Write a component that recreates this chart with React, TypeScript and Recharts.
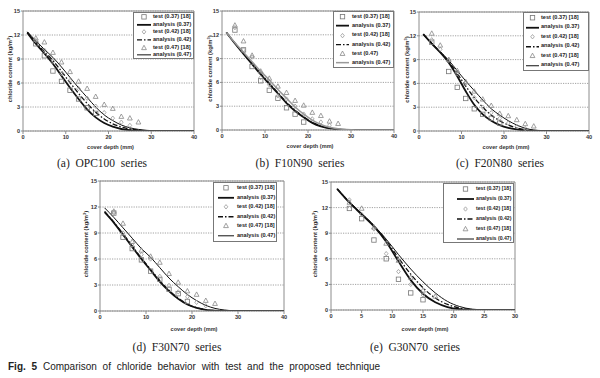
import React from 'react'
import { ComposedChart, Line, Scatter, XAxis, YAxis, CartesianGrid, Legend, Label, ReferenceLine } from 'recharts'

// cover depth (mm) where the test profiles were sampled
const TEST_DEPTH = [3, 5, 7, 9, 11, 13, 15, 17, 19, 21, 23, 25, 27]
const TEST_DEPTH_E = [3, 5, 7, 9, 11, 13, 15, 17]
// cover depth (mm) of the points
const CURVE_DEPTH = [1, 3, 5, 7, 9, 11, 13, 15, 17, 19, 21, 23, 25, 27, 29, 31, 35, 40]
const CURVE_DEPTH_E = [1, 3, 5, 7, 9, 11, 13, 15, 17, 19, 21, 23, 25, 27, 30]

const X_TICKS_40 = [0, 10, 20, 30, 40]
const X_TICKS_30 = [0, 5, 10, 15, 20, 25, 30]
const Y_TICKS = [0, 3, 6, 9, 12, 15]

// (a) OPC100
const A_T37 = [10.9, 9.4, 7.5, 6.2, 5.1, 4.0, 2.9, 2.2, null, null, null, null, null]
const A_T42 = [11.3, 10.1, 8.7, 7.2, 6.3, 5.3, 4.1, 3.1, 2.3, 1.6, 1.1, 0.7, null]
const A_T47 = [11.6, 11.1, 9.8, 8.6, 7.4, 6.2, 5.3, 4.3, 3.3, 2.8, 1.8, 1.6, 1.1]
const A_AN37 = [12.3, 10.9, 9.7, 8.4, 6.9, 5.4, 4.0, 2.7, 1.7, 1.0, 0.55, 0.25, 0.1, 0.04, 0.01, 0, 0, 0]
const A_AN42 = [12.35, 11.1, 9.95, 8.8, 7.45, 6.05, 4.7, 3.45, 2.35, 1.5, 0.9, 0.5, 0.25, 0.1, 0.04, 0.01, 0, 0]
const A_AN47 = [12.4, 11.3, 10.2, 9.2, 8.0, 6.7, 5.4, 4.2, 3.0, 2.0, 1.3, 0.75, 0.4, 0.2, 0.08, 0.02, 0, 0]

// (b) F10N90
const B_T37 = [12.6, 10.1, 8.0, 6.2, 5.0, 4.0, 2.8, 2.0, 1.0, null, null, null, null]
const B_T42 = [12.9, 10.1, 9.2, 6.6, 5.7, 4.3, 3.9, 3.0, 2.0, 1.4, 1.0, 0.6, null]
const B_T47 = [13.2, 11.2, 9.4, 7.4, 6.5, 5.5, 4.7, 3.7, 3.1, 2.2, 1.8, 1.1, 0.8]
const B_AN37 = [12.3, 10.9, 9.6, 8.3, 7.0, 5.8, 4.6, 3.4, 2.4, 1.6, 0.9, 0.45, 0.2, 0.08, 0.02, 0, 0, 0]
const B_AN42 = [12.3, 10.95, 9.65, 8.4, 7.1, 5.9, 4.7, 3.5, 2.5, 1.65, 0.95, 0.5, 0.22, 0.09, 0.03, 0.01, 0, 0]
const B_AN47 = [12.3, 11.0, 9.8, 8.6, 7.4, 6.3, 5.1, 4.0, 2.9, 2.0, 1.25, 0.7, 0.35, 0.15, 0.05, 0.01, 0, 0]

// (c) F20N80
const C_T37 = [11.2, null, 7.5, 5.5, 4.1, 2.8, 2.1, 1.6, 1.0, null, null, null, null]
const C_T42 = [11.5, 10.3, 8.9, 7.2, 6.0, 4.2, 3.0, 2.3, 1.6, 1.0, 0.6, 0.3, null]
const C_T47 = [12.3, 10.8, 9.0, 7.6, 6.2, 5.0, 4.0, 3.2, 2.2, 1.9, 1.4, 0.9, 0.6]
const C_AN37 = [12.2, 11.0, 9.9, 8.6, 6.9, 5.0, 3.3, 2.1, 1.3, 0.75, 0.4, 0.2, 0.08, 0.03, 0.01, 0, 0, 0]
const C_AN42 = [12.2, 11.05, 9.95, 8.75, 7.25, 5.65, 4.2, 3.0, 2.0, 1.3, 0.75, 0.4, 0.18, 0.06, 0.01, 0, 0, 0]
const C_AN47 = [12.2, 11.1, 10.0, 8.9, 7.6, 6.3, 5.1, 3.9, 2.8, 2.0, 1.3, 0.75, 0.35, 0.12, 0.03, 0.01, 0, 0]

// (d) F30N70
const D_T37 = [11.3, 8.5, 7.2, 5.9, 4.6, 3.65, 2.5, 2.0, 1.1, null, null, null, null]
const D_T42 = [11.3, 9.0, 7.6, 6.5, 6.0, 4.0, 2.95, 2.2, 1.65, 1.0, 0.6, null, null]
const D_T47 = [11.5, 10.1, 8.0, 7.0, 6.3, 5.6, 4.3, 3.3, 2.3, 1.9, 1.2, 0.85, null]
const D_AN37 = [11.4, 10.2, 8.8, 7.4, 6.0, 4.7, 3.4, 2.3, 1.4, 0.75, 0.35, 0.13, 0.04, 0.01, 0, 0, 0, 0]
const D_AN42 = [11.5, 10.25, 8.9, 7.5, 6.1, 4.8, 3.5, 2.4, 1.5, 0.8, 0.38, 0.15, 0.05, 0.01, 0, 0, 0, 0]
const D_AN47 = [11.9, 10.8, 9.6, 8.4, 7.2, 6.2, 5.0, 3.8, 2.8, 1.9, 1.2, 0.65, 0.3, 0.12, 0.03, 0.01, 0, 0]

// (e) G30N70
const E_T37 = [11.9, 10.7, 8.2, 6.0, 3.6, 2.0, 1.2, null]
const E_T42 = [12.9, 11.2, 9.5, 6.6, 4.5, 3.0, 1.75, null]
const E_T47 = [12.6, 11.9, 9.7, 7.8, 5.8, 3.8, 2.3, 1.6]
const E_AN37 = [14.2, 12.6, 11.2, 9.8, 8.0, 5.7, 3.5, 1.9, 0.9, 0.35, 0.1, 0.02, 0, 0, 0]
const E_AN42 = [14.2, 12.62, 11.25, 9.85, 8.15, 6.1, 4.2, 2.6, 1.4, 0.65, 0.22, 0.05, 0.01, 0, 0]
const E_AN47 = [14.2, 12.65, 11.3, 9.9, 8.3, 6.5, 4.8, 3.3, 2.0, 1.0, 0.4, 0.1, 0.02, 0, 0]

const LEGEND_NAMES = ['test (0.37) [18]', 'analysis (0.37)', 'test (0.42) [18]', 'analysis (0.42)', 'test (0.47) [18]', 'analysis (0.47)']
const LEGEND_NAMES_B = ['test (0.37) [18]', 'analysis (0.37)', 'test (0.42) [18]', 'analysis (0.42)', 'test (0.47)', 'analysis (0.47)']

const SANS = 'Liberation Sans, Arial, sans-serif'
const SERIF = 'Liberation Serif, Times New Roman, serif'
const FRAME = '#8c8c8c'

const SquareDot = ({ cx, cy }: any) => (
  <rect x={cx - 2.2} y={cy - 2.2} width={4.4} height={4.4} fill="none" stroke="#777" strokeWidth={0.8} />
)
const DiamondDot = ({ cx, cy }: any) => (
  <path d={`M${cx},${cy - 2.2}L${cx + 1.8},${cy}L${cx},${cy + 2.2}L${cx - 1.8},${cy}Z`} fill="none" stroke="#999" strokeWidth={0.8} />
)
const TriangleDot = ({ cx, cy }: any) => (
  <path d={`M${cx},${cy - 2.6}L${cx + 2.4},${cy + 1.8}L${cx - 2.4},${cy + 1.8}Z`} fill="none" stroke="#888" strokeWidth={0.8} />
)

const panels = [
  {
    key: 'a', left: 0, top: 0, w: 200, h: 152, margin: { top: 11, right: 6, left: 0, bottom: 2 },
    yW: 23, xH: 19, yTitleX: 10, xMax: 40, xTicks: X_TICKS_40, curveX: CURVE_DEPTH, testX: TEST_DEPTH,
    an: [A_AN37, A_AN42, A_AN47], t: [A_T37, A_T42, A_T47], names: LEGEND_NAMES, grey47: false,
    leg: { left: 133, top: 12, w: 61, h: 47, rowH: 7.7, fs: 5.6, s0: 3, s1: 17, tx: 19 },
    caption: '(a)  OPC100  series', capX: 102, capY: 163,
  },
  {
    key: 'b', left: 200, top: 0, w: 200, h: 151, margin: { top: 11, right: 6, left: 0, bottom: 2 },
    yW: 22, xH: 19, yTitleX: 10, xMax: 40, xTicks: X_TICKS_40, curveX: CURVE_DEPTH, testX: TEST_DEPTH,
    an: [B_AN37, B_AN42, B_AN47], t: [B_T37, B_T42, B_T47], names: LEGEND_NAMES_B, grey47: true,
    leg: { left: 133, top: 11, w: 61, h: 57, rowH: 9.3, fs: 5.6, s0: 2, s1: 15, tx: 18 },
    caption: '(b)  F10N90  series', capX: 300, capY: 163,
  },
  {
    key: 'c', left: 400, top: 0, w: 200, h: 152, margin: { top: 12, right: 11, left: 0, bottom: 2 },
    yW: 19, xH: 19, yTitleX: 7, xMax: 40, xTicks: X_TICKS_40, curveX: CURVE_DEPTH, testX: TEST_DEPTH,
    an: [C_AN37, C_AN42, C_AN47], t: [C_T37, C_T42, C_T47], names: LEGEND_NAMES, grey47: false,
    leg: { left: 123, top: 12, w: 66, h: 59, rowH: 9.5, fs: 5.6, s0: 2, s1: 15, tx: 17 },
    caption: '(c)  F20N80  series', capX: 500, capY: 163,
  },
  {
    key: 'd', left: 60, top: 170, w: 240, h: 162, margin: { top: 11, right: 16, left: 0, bottom: 0 },
    yW: 40, xH: 21, yTitleX: 26, xMax: 40, xTicks: X_TICKS_40, curveX: CURVE_DEPTH, testX: TEST_DEPTH,
    an: [D_AN37, D_AN42, D_AN47], t: [D_T37, D_T42, D_T47], names: LEGEND_NAMES, grey47: false,
    leg: { left: 153, top: 12, w: 64, h: 60, rowH: 9.6, fs: 5.6, s0: 4, s1: 20, tx: 23 },
    caption: '(d)  F30N70  series', capX: 177, capY: 347,
  },
  {
    key: 'e', left: 290, top: 170, w: 240, h: 162, margin: { top: 12, right: 15, left: 0, bottom: 0 },
    yW: 41, xH: 22, yTitleX: 25, xMax: 30, xTicks: X_TICKS_30, curveX: CURVE_DEPTH_E, testX: TEST_DEPTH_E,
    an: [E_AN37, E_AN42, E_AN47], t: [E_T37, E_T42, E_T47], names: LEGEND_NAMES, grey47: false,
    leg: { left: 153, top: 13, w: 71, h: 60, rowH: 10, fs: 5.2, s0: 13, s1: 30, tx: 32 },
    caption: '(e)  G30N70  series', capX: 415, capY: 347,
  },
]

function LegendBox({ p }: any) {
  const L = p.leg
  const lineStyles = [
    { stroke: '#111', strokeWidth: 1.8, dash: undefined },
    { stroke: '#111', strokeWidth: 1.4, dash: '5 2 1.5 2' },
    { stroke: p.grey47 ? '#999' : '#111', strokeWidth: p.grey47 ? 1.5 : 1, dash: undefined },
  ]
  const dots = [SquareDot, DiamondDot, TriangleDot]
  return (
    <div style={{ width: L.w, height: L.h, boxSizing: 'border-box', border: '1px solid #777', background: '#fff', fontFamily: SANS, fontSize: L.fs, fontWeight: 'bold', color: '#222' }}>
      {p.names.map((name: string, i: number) => {
        const k = Math.floor(i / 2)
        const isLine = i % 2 === 1
        const Dot = dots[k]
        const mid = (L.s0 + L.s1) / 2
        return (
          <div key={name} style={{ display: 'flex', alignItems: 'center', height: L.rowH, whiteSpace: 'nowrap' }}>
            <svg width={L.tx} height={L.rowH} style={{ flex: 'none' }}>
              {isLine ? (
                <line x1={L.s0} x2={L.s1} y1={L.rowH / 2} y2={L.rowH / 2} stroke={lineStyles[k].stroke} strokeWidth={lineStyles[k].strokeWidth} strokeDasharray={lineStyles[k].dash} />
              ) : (
                <Dot cx={mid} cy={L.rowH / 2} />
              )}
            </svg>
            <span style={{ lineHeight: 1 }}>{name}</span>
          </div>
        )
      })}
    </div>
  )
}

function Panel({ p }: any) {
  const rows = p.curveX.map((x: number, i: number) => ({ x, a37: p.an[0][i], a42: p.an[1][i], a47: p.an[2][i] }))
  const pts = (vals: (number | null)[]) => p.testX.map((x: number, i: number) => ({ x, y: vals[i] })).filter((d: any) => d.y !== null)
  const tickStyle = { fontSize: 5.6, fontWeight: 'bold', fill: '#333', fontFamily: SANS }

  const yTitle = (props: any) => {
    const vb = props.viewBox
    const cy = vb.y + vb.height / 2 - 2
    const x = p.yTitleX
    return (
      <text x={x} y={cy} transform={`rotate(-90 ${x} ${cy})`} textAnchor="middle" dominantBaseline="central" fontSize={5.8} fontWeight="bold" fill="#333" fontFamily={SANS}>
        chloride content (kg/m<tspan dy={-2} fontSize={4}>3</tspan><tspan dy={2}>)</tspan>
      </text>
    )
  }
  const xTitle = (props: any) => {
    const vb = props.viewBox
    return (
      <text x={vb.x + vb.width / 2 + 2} y={vb.y + vb.height - 1} textAnchor="middle" fontSize={5.6} fontWeight="bold" fill="#333" fontFamily={SANS}>
        cover depth (mm)
      </text>
    )
  }

  return (
    <div style={{ position: 'absolute', left: p.left, top: p.top }}>
      <ComposedChart width={p.w} height={p.h} data={rows} margin={p.margin}>
        <CartesianGrid horizontal vertical={false} stroke="#8a8a8a" strokeDasharray="1.2 1.2" strokeWidth={0.8} />
        <XAxis type="number" dataKey="x" domain={[0, p.xMax]} ticks={p.xTicks} allowDataOverflow height={p.xH}
          tick={tickStyle} tickSize={3} tickMargin={1} tickLine={{ stroke: FRAME }} axisLine={{ stroke: FRAME }}>
          <Label content={xTitle} />
        </XAxis>
        <YAxis type="number" domain={[0, 15]} ticks={Y_TICKS} width={p.yW} allowDataOverflow
          tick={tickStyle} tickSize={2} tickMargin={1} tickLine={{ stroke: FRAME }} axisLine={{ stroke: FRAME }}>
          <Label content={yTitle} />
        </YAxis>
        {/* plot-area frame: top and right edges */}
        <ReferenceLine y={15} stroke={FRAME} strokeWidth={1} ifOverflow="visible" />
        <ReferenceLine x={p.xMax} stroke={FRAME} strokeWidth={1} ifOverflow="visible" />

        <Line type="monotone" dataKey="a37" name={p.names[1]} stroke="#111" strokeWidth={1.8} dot={false} isAnimationActive={false} />
        <Line type="monotone" dataKey="a42" name={p.names[3]} stroke="#111" strokeWidth={1.3} strokeDasharray="5 2 1.5 2" dot={false} isAnimationActive={false} />
        <Line type="monotone" dataKey="a47" name={p.names[5]} stroke={p.grey47 ? '#999' : '#111'} strokeWidth={p.grey47 ? 1.5 : 1} dot={false} isAnimationActive={false} />

        <Scatter data={pts(p.t[0])} dataKey="y" name={p.names[0]} shape={(s: any) => <SquareDot cx={s.cx} cy={s.cy} />} isAnimationActive={false} />
        <Scatter data={pts(p.t[1])} dataKey="y" name={p.names[2]} shape={(s: any) => <DiamondDot cx={s.cx} cy={s.cy} />} isAnimationActive={false} />
        <Scatter data={pts(p.t[2])} dataKey="y" name={p.names[4]} shape={(s: any) => <TriangleDot cx={s.cx} cy={s.cy} />} isAnimationActive={false} />

        <Legend layout="vertical" align="center" verticalAlign="middle"
          wrapperStyle={{ left: p.leg.left, top: p.leg.top, width: p.leg.w, height: p.leg.h }}
          content={() => <LegendBox p={p} />} />
      </ComposedChart>
    </div>
  )
}

export default function App() {
  return (
    <div style={{ position: 'absolute', left: 0, top: 0, width: 600, height: 378, background: '#fff', overflow: 'hidden' }}>
      {panels.map((p) => (
        <Panel key={p.key} p={p} />
      ))}
      {panels.map((p) => (
        <div key={'cap' + p.key} style={{ position: 'absolute', left: p.capX - 70, top: p.capY - 7, width: 140, height: 14, lineHeight: '14px', textAlign: 'center', fontFamily: SERIF, fontSize: 11.5, color: '#222', whiteSpace: 'pre' }}>
          {p.caption}
        </div>
      ))}
      <div style={{ position: 'absolute', left: 8, top: 361, height: 12, lineHeight: '12px', fontFamily: SANS, fontSize: 10, color: '#222', whiteSpace: 'nowrap', wordSpacing: 3 }}>
        <b>Fig. 5</b> Comparison of chloride behavior with test and the proposed technique
      </div>
    </div>
  )
}
